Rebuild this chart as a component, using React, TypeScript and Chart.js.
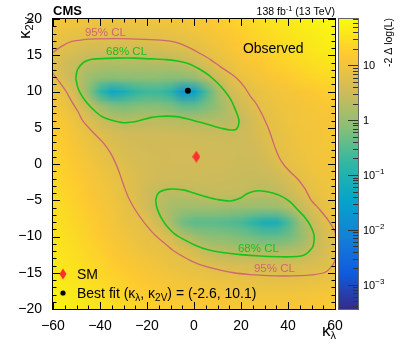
import React, { useEffect, useRef } from "react";
import { Chart, registerables } from "chart.js";

Chart.register(...registerables);

// ---------------- data ----------------
// grid nodes of the likelihood scan
const KAPPA_LAMBDA = [-60, -55, -50, -45, -40, -35, -30, -25, -20, -15, -10, -5, 0, 5, 10, 15, 20, 25, 30, 35, 40, 45, 50, 55, 60];
const KAPPA_2V = [20, 18, 16, 14, 12, 10, 8, 6, 4, 2, 0, -2, -4, -6, -8, -10, -12, -14, -16, -18, -20];
// -2 Δ log(L), one row per kappa_2V node
const NLL_ROWS: number[][] = [
  [11, 10.5, 10, 9.5, 9.3, 9.2, 9.2, 9.3, 9.5, 10, 11, 12, 13, 15, 17, 20, 24, 28, 33, 38, 44, 50, 56, 62, 68],
  [9, 8, 7.2, 6.7, 6.5, 6.4, 6.4, 6.5, 6.6, 6.8, 7.2, 8, 9, 10.5, 12.5, 15, 18, 22, 26, 30, 35, 40, 45, 50, 56],
  [6.5, 5.5, 4.5, 4, 3.8, 3.8, 3.8, 3.8, 3.9, 4.2, 4.6, 5.3, 6.2, 7.5, 9.5, 12, 15, 18, 21, 25, 29, 33, 38, 43, 48],
  [4.8, 3.5, 2.7, 2.1, 1.9, 1.8, 1.8, 1.8, 1.85, 1.9, 2.0, 2.3, 3.0, 4.5, 6.5, 8.5, 11, 13.5, 16, 19, 22, 26, 30, 34, 38],
  [6.2, 3.8, 2.3, 1.2, 0.9, 0.8, 0.85, 0.9, 0.9, 0.85, 0.8, 0.8, 1.0, 2.0, 3.5, 5.5, 8, 10, 12, 14, 16, 19, 22, 25, 28],
  [9, 6.3, 3, 0.8, 0.15, 0.04, 0.07, 0.15, 0.2, 0.2, 0.12, 0.018, 0.03, 0.25, 1.2, 3.2, 5, 6.8, 8.5, 10, 11.5, 13, 15, 17, 19],
  [12, 8.5, 5, 2.6, 1.3, 0.7, 0.6, 0.7, 0.75, 0.7, 0.6, 0.4, 0.4, 0.6, 1.0, 2.0, 3.5, 5.3, 7, 8.5, 9.5, 10.5, 12, 13, 14],
  [16, 12, 8, 4.8, 3.0, 2.3, 2.1, 2.1, 2.2, 2.2, 2.1, 2.0, 1.9, 1.8, 1.8, 2.0, 2.6, 4.0, 5.9, 7.5, 9, 10, 11, 12, 13],
  [18, 14, 10, 7.5, 5.5, 4.3, 3.6, 3.4, 3.3, 3.3, 3.3, 3.2, 3.1, 3.0, 3.0, 3.0, 3.2, 3.8, 5, 6.5, 8, 9.5, 10.5, 11.5, 12.5],
  [20, 16, 12, 9, 7, 5.4, 4.3, 3.8, 3.6, 3.5, 3.5, 3.5, 3.5, 3.4, 3.3, 3.2, 3.2, 3.4, 4.2, 6, 7.5, 9, 10, 11, 12],
  [22, 18, 14, 11, 8.5, 6.4, 5.2, 4.3, 3.8, 3.6, 3.5, 3.5, 3.5, 3.5, 3.4, 3.2, 3.0, 3.0, 3.5, 4.6, 6.8, 8, 9.5, 10.5, 11.5],
  [25, 20, 16, 12.5, 10, 8, 6.2, 4.8, 3.9, 3.4, 3.2, 3.1, 3.1, 3.1, 3.0, 2.9, 2.8, 2.7, 2.7, 3.0, 4.2, 6.2, 8, 9.5, 10.5],
  [28, 22, 18, 14, 11, 9, 6.8, 4.8, 3.2, 2.3, 2.1, 2.1, 2.3, 2.5, 2.6, 2.6, 2.5, 2.2, 2.1, 2.2, 2.9, 4.2, 6.5, 8.5, 10],
  [30, 25, 20, 16, 12.5, 10, 7.8, 5.5, 3.5, 2.1, 1.4, 1.2, 1.2, 1.2, 1.2, 1.1, 1.0, 1.0, 1.0, 1.1, 1.6, 2.5, 4.3, 6.8, 9],
  [32, 27, 22, 18, 14, 11, 8.5, 7, 5.6, 3.2, 1.4, 0.5, 0.35, 0.35, 0.35, 0.3, 0.25, 0.15, 0.08, 0.08, 0.25, 1.0, 2.6, 4.8, 7],
  [35, 30, 25, 20, 16, 12.5, 10, 8, 6.8, 6.2, 3.9, 2.1, 1.3, 0.9, 0.8, 0.7, 0.6, 0.5, 0.4, 0.4, 0.5, 0.9, 2.0, 3.8, 5.8],
  [38, 33, 28, 23, 19, 15, 12, 10, 8.5, 7.5, 6.5, 5.3, 4, 2.6, 2.1, 1.9, 1.8, 1.7, 1.7, 1.7, 1.8, 2.0, 2.6, 4, 6],
  [40, 36, 31, 26, 22, 18, 15, 13, 11, 9.5, 8, 7, 6.3, 5.5, 4.8, 4.4, 4.2, 4.1, 4.0, 4.0, 4.1, 4.3, 4.8, 5.2, 7],
  [45, 40, 35, 30, 26, 22, 19, 16, 14, 12.5, 11, 10, 9.5, 9, 8.5, 8, 7.5, 7, 6.8, 6.7, 6.7, 6.8, 7.2, 8, 9.5],
  [50, 45, 40, 35, 30, 26, 22, 19, 17, 15, 14, 13, 12.5, 12, 11.5, 11, 10.5, 10, 10, 10, 10, 10.5, 11, 12, 13],
  [60, 52, 46, 40, 35, 30, 26, 23, 20, 18, 17, 16, 15.5, 15, 14.5, 14, 13.5, 13, 13, 13, 13, 13.5, 14, 15, 16],
];

// contours (kappa_lambda, kappa_2V)
const CONTOUR_95: [number, number][] = [
  [-61, 15.2], [-60, 15.4], [-56, 16.3], [-52, 16.9], [-47, 17.15], [-42, 17.25], [-32, 17.3], [-21, 17.2],
  [-13, 17.05], [-8, 16.8], [-3, 16.2], [2.8, 15.2], [7, 14.4], [11.3, 13.4], [15, 12.6], [18.6, 11.7],
  [21.5, 10.6], [24.1, 9.3], [26.5, 8.3], [28.4, 7.2], [30.2, 6.0], [31.8, 4.8], [33.4, 3.3], [34.8, 2.0],
  [36.4, 0.8], [38.2, -0.1], [41, -1.1], [44.2, -2.1], [47.2, -3.4], [49.7, -4.9], [53.5, -6.3], [57.0, -7.7],
  [59.5, -9.0], [60.4, -9.9], [60.8, -11.0], [60.6, -12.3], [59.6, -13.6], [57.6, -14.5], [55.3, -15.0],
  [50, -15.3], [45.5, -15.4], [38, -15.45], [31.4, -15.4], [24, -15.25], [16.9, -15.0], [9.5, -14.5],
  [2.8, -13.9], [-1, -13.4], [-4.5, -12.8], [-9, -11.9], [-13, -10.8], [-16.6, -9.8], [-19.9, -8.6],
  [-23, -7.3], [-25.8, -5.9], [-27.8, -4.7], [-29.3, -3.5], [-30.8, -2.1], [-32.2, -0.8], [-33.9, 0.5],
  [-35.7, 1.6], [-38.3, 2.8], [-41.2, 3.8], [-44.5, 4.9], [-47.6, 6.1], [-49.3, 7.2], [-52, 8.6],
  [-54.4, 10.0], [-57.2, 11.3], [-59.6, 12.3], [-61, 12.8],
];
const CONTOUR_68_UPPER: [number, number][] = [
  [-50.3, 11.8], [-49.6, 13.0], [-47.1, 14.0], [-44, 14.4], [-41.3, 14.5], [-32.8, 14.6], [-25, 14.6],
  [-18.6, 14.5], [-12, 14.4], [-7.2, 14.2], [-2, 13.8], [2.8, 13.0], [6.5, 12.2], [9.9, 11.2], [13, 10.1],
  [15.6, 8.9], [17.6, 7.5], [19.1, 6.1], [18.9, 5.3], [18.0, 4.8], [15.6, 4.7], [12, 4.9], [8.4, 5.2],
  [3.5, 5.7], [-1.5, 6.1], [-6.5, 6.5], [-11.5, 6.6], [-15, 6.55], [-18.6, 6.4], [-24.3, 5.9], [-30.0, 5.7],
  [-35.7, 6.1], [-39.5, 6.6], [-42.8, 7.5], [-45.5, 8.4], [-47.7, 9.4], [-49.3, 10.4], [-50.3, 11.8],
];
const CONTOUR_68_LOWER: [number, number][] = [
  [-16.3, -5.0], [-15.7, -4.3], [-14.3, -3.8], [-11.5, -3.5], [-8.6, -3.45], [-4, -3.6], [-0.1, -4.0],
  [5, -4.5], [9.9, -4.9], [15.6, -5.1], [19.8, -4.7], [22, -4.2], [24.1, -3.9], [27, -3.7], [29.8, -3.75],
  [33.5, -4.0], [36.9, -4.4], [40.8, -5.2], [44.1, -6.3], [47.3, -7.4], [49.7, -8.6], [51, -9.7],
  [51.1, -10.4], [50.7, -11.3], [49.7, -11.8], [47.8, -12.4], [45.5, -12.7], [41, -12.8], [36.9, -12.8],
  [28, -12.7], [19.8, -12.5], [12, -12.2], [5.6, -11.8], [0.5, -11.2], [-4.4, -10.4], [-8.4, -9.6],
  [-11.5, -8.6], [-13.6, -7.6], [-15.0, -6.7], [-15.9, -5.9], [-16.3, -5.0],
];

const SM_POINT = [{ x: 1, y: 1 }];
const BEST_FIT = [{ x: -2.6, y: 10.1 }];

const X_TICKS = [-60, -40, -20, 0, 20, 40, 60];
const Y_TICKS = [-20, -15, -10, -5, 0, 5, 10, 15, 20];
const Z_TICKS = [0.001, 0.01, 0.1, 1, 10];
const Z_MIN = 3.6e-4;
const Z_MAX = 70;

// text annotations anchored in data coordinates
const LABELS: { text: string; x: number; y: number; color: string; size: number }[] = [
  { text: "95% CL", x: -46.4, y: 17.7, color: "#cf6673", size: 11.5 },
  { text: "68% CL", x: -37.4, y: 15.0, color: "#19c219", size: 11.5 },
  { text: "68% CL", x: 18.7, y: -12.1, color: "#19c219", size: 11.5 },
  { text: "95% CL", x: 25.5, y: -14.9, color: "#cf6673", size: 11.5 },
  { text: "Observed", x: 20.8, y: 15.3, color: "#000", size: 14 },
];

// ---------------- style ----------------
const FONT = '"Liberation Sans", Arial, Helvetica, sans-serif';
const BIRD = [
  [0.2082, 0.1664, 0.5293], [0.0592, 0.3599, 0.8684], [0.078, 0.5041, 0.8385],
  [0.0232, 0.6419, 0.7914], [0.1802, 0.7178, 0.6425], [0.5301, 0.7492, 0.4662],
  [0.8186, 0.7328, 0.3499], [0.9956, 0.7862, 0.1968], [0.9764, 0.9832, 0.0539],
];

function birdColor(v: number): [number, number, number] {
  const lo = Math.log10(Z_MIN), hi = Math.log10(Z_MAX);
  let t = (Math.log10(Math.max(v, 1e-9)) - lo) / (hi - lo);
  t = Math.min(1, Math.max(0, t));
  const s = t * (BIRD.length - 1);
  const i = Math.min(BIRD.length - 2, Math.floor(s));
  const f = s - i;
  const a = BIRD[i], b = BIRD[i + 1];
  return [0, 1, 2].map((k) => Math.round(255 * (a[k] + (b[k] - a[k]) * f))) as [number, number, number];
}

type Part = [string, number, number, boolean?];
function rich(ctx: CanvasRenderingContext2D, parts: Part[], x: number, y: number, align: "left" | "right", color: string) {
  let w = 0;
  for (const [t, s, , bold] of parts) {
    ctx.font = `${bold ? "bold " : ""}${s}px ${FONT}`;
    w += ctx.measureText(t).width;
  }
  let cx = align === "right" ? x - w : x;
  ctx.fillStyle = color;
  ctx.textAlign = "left";
  ctx.textBaseline = "alphabetic";
  for (const [t, s, dy, bold] of parts) {
    ctx.font = `${bold ? "bold " : ""}${s}px ${FONT}`;
    ctx.fillText(t, cx, y + dy);
    cx += ctx.measureText(t).width;
  }
}

function fmtNum(v: number) {
  return String(v).replace("-", "\u2212");
}

export default function App() {
  const ref = useRef<HTMLCanvasElement>(null);

  useEffect(() => {
    document.body.style.margin = "0";
    const canvas = ref.current!;

    // heat image: one pixel per scan node
    const heat = document.createElement("canvas");
    heat.width = KAPPA_LAMBDA.length;
    heat.height = KAPPA_2V.length;
    const hctx = heat.getContext("2d")!;
    const img = hctx.createImageData(heat.width, heat.height);
    NLL_ROWS.forEach((row, j) =>
      row.forEach((v, i) => {
        const [r, g, b] = birdColor(v);
        const o = (j * heat.width + i) * 4;
        img.data[o] = r; img.data[o + 1] = g; img.data[o + 2] = b; img.data[o + 3] = 255;
      })
    );
    hctx.putImageData(img, 0, 0);

    // SM diamond marker
    const diamond = document.createElement("canvas");
    diamond.width = 8; diamond.height = 12;
    const dctx = diamond.getContext("2d")!;
    dctx.fillStyle = "#ff2f2f";
    dctx.beginPath(); dctx.moveTo(4, 0); dctx.lineTo(8, 6); dctx.lineTo(4, 12); dctx.lineTo(0, 6); dctx.closePath(); dctx.fill();

    const plugin = {
      id: "cmsScan",
      beforeDatasetsDraw(chart: any) {
        const { ctx, chartArea: a } = chart;
        const xs = chart.scales.x, ys = chart.scales.y, cb = chart.scales.cb;
        const cw = xs.getPixelForValue(KAPPA_LAMBDA[1]) - xs.getPixelForValue(KAPPA_LAMBDA[0]);
        const ch = ys.getPixelForValue(KAPPA_2V[1]) - ys.getPixelForValue(KAPPA_2V[0]);
        const x0 = xs.getPixelForValue(KAPPA_LAMBDA[0]) - cw / 2;
        const y0 = ys.getPixelForValue(KAPPA_2V[0]) - ch / 2;
        ctx.save();
        ctx.beginPath(); ctx.rect(a.left, a.top, a.right - a.left, a.bottom - a.top); ctx.clip();
        ctx.imageSmoothingEnabled = true;
        (ctx as any).imageSmoothingQuality = "low";
        ctx.drawImage(heat, x0, y0, cw * KAPPA_LAMBDA.length, ch * KAPPA_2V.length);
        ctx.restore();

        // colour bar
        const cbL = a.right + 4, cbR = a.right + 23;
        for (let py = Math.floor(a.top); py < Math.ceil(a.bottom); py++) {
          const v = cb.getValueForPixel(py + 0.5);
          const [r, g, b] = birdColor(v);
          ctx.fillStyle = `rgb(${r},${g},${b})`;
          ctx.fillRect(cbL, py, cbR - cbL, 1);
        }
      },
      afterDraw(chart: any) {
        const { ctx, chartArea: a } = chart;
        const xs = chart.scales.x, ys = chart.scales.y, cb = chart.scales.cb;
        ctx.save();
        // frame
        ctx.strokeStyle = "#000"; ctx.lineWidth = 1;
        ctx.strokeRect(a.left - 0.5, a.top - 0.5, a.right - a.left + 1, a.bottom - a.top + 1);
        // inner ticks
        ctx.beginPath();
        for (let v = -60; v <= 60; v += 5) {
          const px = Math.round(xs.getPixelForValue(v)) + 0.5;
          const len = v % 20 === 0 ? 7 : 3.5;
          ctx.moveTo(px, a.bottom); ctx.lineTo(px, a.bottom - len);
          ctx.moveTo(px, a.top); ctx.lineTo(px, a.top + len);
        }
        for (let v = -20; v <= 20; v += 1) {
          const py = Math.round(ys.getPixelForValue(v)) + 0.5;
          const len = v % 5 === 0 ? 7 : 3.5;
          ctx.moveTo(a.left, py); ctx.lineTo(a.left + len, py);
          ctx.moveTo(a.right, py); ctx.lineTo(a.right - len, py);
        }
        ctx.stroke();

        // colour bar frame and ticks
        const cbL = a.right + 4, cbR = a.right + 23;
        ctx.strokeStyle = "#666";
        ctx.strokeRect(cbL - 0.5, a.top - 0.5, cbR - cbL + 1, a.bottom - a.top + 1);
        ctx.strokeStyle = "#333";
        ctx.beginPath();
        for (let e = -4; e <= 1; e++) {
          for (let m = 1; m <= 9; m++) {
            const v = m * Math.pow(10, e);
            if (v < Z_MIN || v > Z_MAX) continue;
            const py = Math.round(cb.getPixelForValue(v)) + 0.5;
            const len = m === 1 ? 10 : 5;
            ctx.moveTo(cbR, py); ctx.lineTo(cbR - len, py);
          }
        }
        ctx.stroke();
        for (const z of Z_TICKS) {
          const py = cb.getPixelForValue(z) + 4;
          const e = Math.round(Math.log10(z));
          if (e === 0) rich(ctx, [["1", 11, 0]], cbR + 5, py, "left", "#000");
          else if (e === 1) rich(ctx, [["10", 11, 0]], cbR + 5, py, "left", "#000");
          else rich(ctx, [["10", 11, 0], ["\u2212" + String(-e), 8, -5]], cbR + 5, py, "left", "#000");
        }
        // colour bar title
        ctx.save();
        ctx.translate(a.right + 57, a.top - 1);
        ctx.rotate(-Math.PI / 2);
        rich(ctx, [["-2 \u0394 log(L)", 10.5, 0]], 0, 0, "right", "#000");
        ctx.restore();

        // annotations
        for (const l of LABELS) {
          rich(ctx, [[l.text, l.size, 0]], xs.getPixelForValue(l.x), ys.getPixelForValue(l.y), "left", l.color);
        }
        // header
        rich(ctx, [["CMS", 13, 0, true]], a.left, a.top - 4, "left", "#000");
        rich(ctx, [["138 fb", 10.5, 0], ["-1", 7.5, -4], [" (13 TeV)", 10.5, 0]], a.right, a.top - 4, "right", "#000");

        // axis titles
        rich(ctx, [["\u03BA", 17, 0], ["\u03BB", 11, 3]], a.right + 1, a.bottom + 27, "right", "#000");
        ctx.save();
        ctx.translate(a.left - 23, a.top - 2);
        ctx.rotate(-Math.PI / 2);
        rich(ctx, [["\u03BA", 17, 0], ["2V", 11, 3]], 0, 0, "right", "#000");
        ctx.restore();

        // legend
        const lx = a.left + 10, ly1 = a.bottom - 35, ly2 = a.bottom - 16;
        ctx.fillStyle = "#ff2f2f";
        ctx.beginPath(); ctx.moveTo(lx, ly1 - 5.5); ctx.lineTo(lx + 3.5, ly1); ctx.lineTo(lx, ly1 + 5.5); ctx.lineTo(lx - 3.5, ly1); ctx.closePath(); ctx.fill();
        ctx.fillStyle = "#000";
        ctx.beginPath(); ctx.arc(lx, ly2, 2.6, 0, Math.PI * 2); ctx.fill();
        rich(ctx, [["SM", 14, 0]], lx + 14, ly1 + 5, "left", "#000");
        rich(ctx, [
          ["Best fit (\u03BA", 14, 0], ["\u03BB", 10, 3], [", \u03BA", 14, 0], ["2V", 10, 3],
          [") = (-2.6, 10.1)", 14, 0],
        ], lx + 14, ly2 + 5, "left", "#000");
        ctx.restore();
      },
    };

    const lineDs = (pts: [number, number][], color: string, width: number) => ({
      data: pts.map(([x, y]) => ({ x, y })),
      showLine: true,
      borderColor: color,
      borderWidth: width,
      pointRadius: 0,
      tension: 0.3,
      fill: false,
      clip: 0,
    });

    const chart = new Chart(canvas, {
      type: "scatter",
      data: {
        datasets: [
          lineDs(CONTOUR_95, "#cf6673", 1.3) as any,
          lineDs(CONTOUR_68_UPPER, "#19c219", 1.6) as any,
          lineDs(CONTOUR_68_LOWER, "#19c219", 1.6) as any,
          { data: SM_POINT, pointStyle: diamond, pointRadius: 6, clip: false } as any,
          { data: BEST_FIT, pointRadius: 3, backgroundColor: "#000", borderWidth: 0, clip: false } as any,
        ],
      },
      plugins: [plugin],
      options: {
        animation: false,
        responsive: false,
        events: [],
        layout: { padding: { top: 19, left: 0, right: 0, bottom: 0 } },
        plugins: { legend: { display: false }, tooltip: { enabled: false } },
        scales: {
          x: {
            type: "linear", position: "bottom", min: -60, max: 60,
            afterBuildTicks: (s: any) => { s.ticks = X_TICKS.map((v) => ({ value: v })); },
            afterFit: (s: any) => { s.height = 36; },
            grid: { display: false },
            border: { display: false },
            ticks: {
              color: "#000", padding: 1, maxRotation: 0, autoSkip: false,
              font: { family: FONT, size: 14 },
              callback: (v: any) => fmtNum(Number(v)),
            },
          },
          y: {
            type: "linear", position: "left", min: -20, max: 20,
            afterBuildTicks: (s: any) => { s.ticks = Y_TICKS.map((v) => ({ value: v })); },
            afterFit: (s: any) => { s.width = 53; },
            grid: { display: false },
            border: { display: false },
            ticks: {
              color: "#000", padding: 3, autoSkip: false,
              font: { family: FONT, size: 14 },
              callback: (v: any) => fmtNum(Number(v)),
            },
          },
          cb: {
            type: "logarithmic", axis: "y", position: "right", min: Z_MIN, max: Z_MAX,
            afterFit: (s: any) => { s.width = 72; },
            grid: { display: false },
            border: { display: false },
            ticks: { display: false },
          },
        } as any,
      },
    } as any);
    return () => chart.destroy();
  }, []);

  return (
    <div style={{ width: 407, height: 345, position: "relative" }}>
      <canvas ref={ref} width={407} height={345} style={{ display: "block", width: 407, height: 345 }} />
    </div>
  );
}
